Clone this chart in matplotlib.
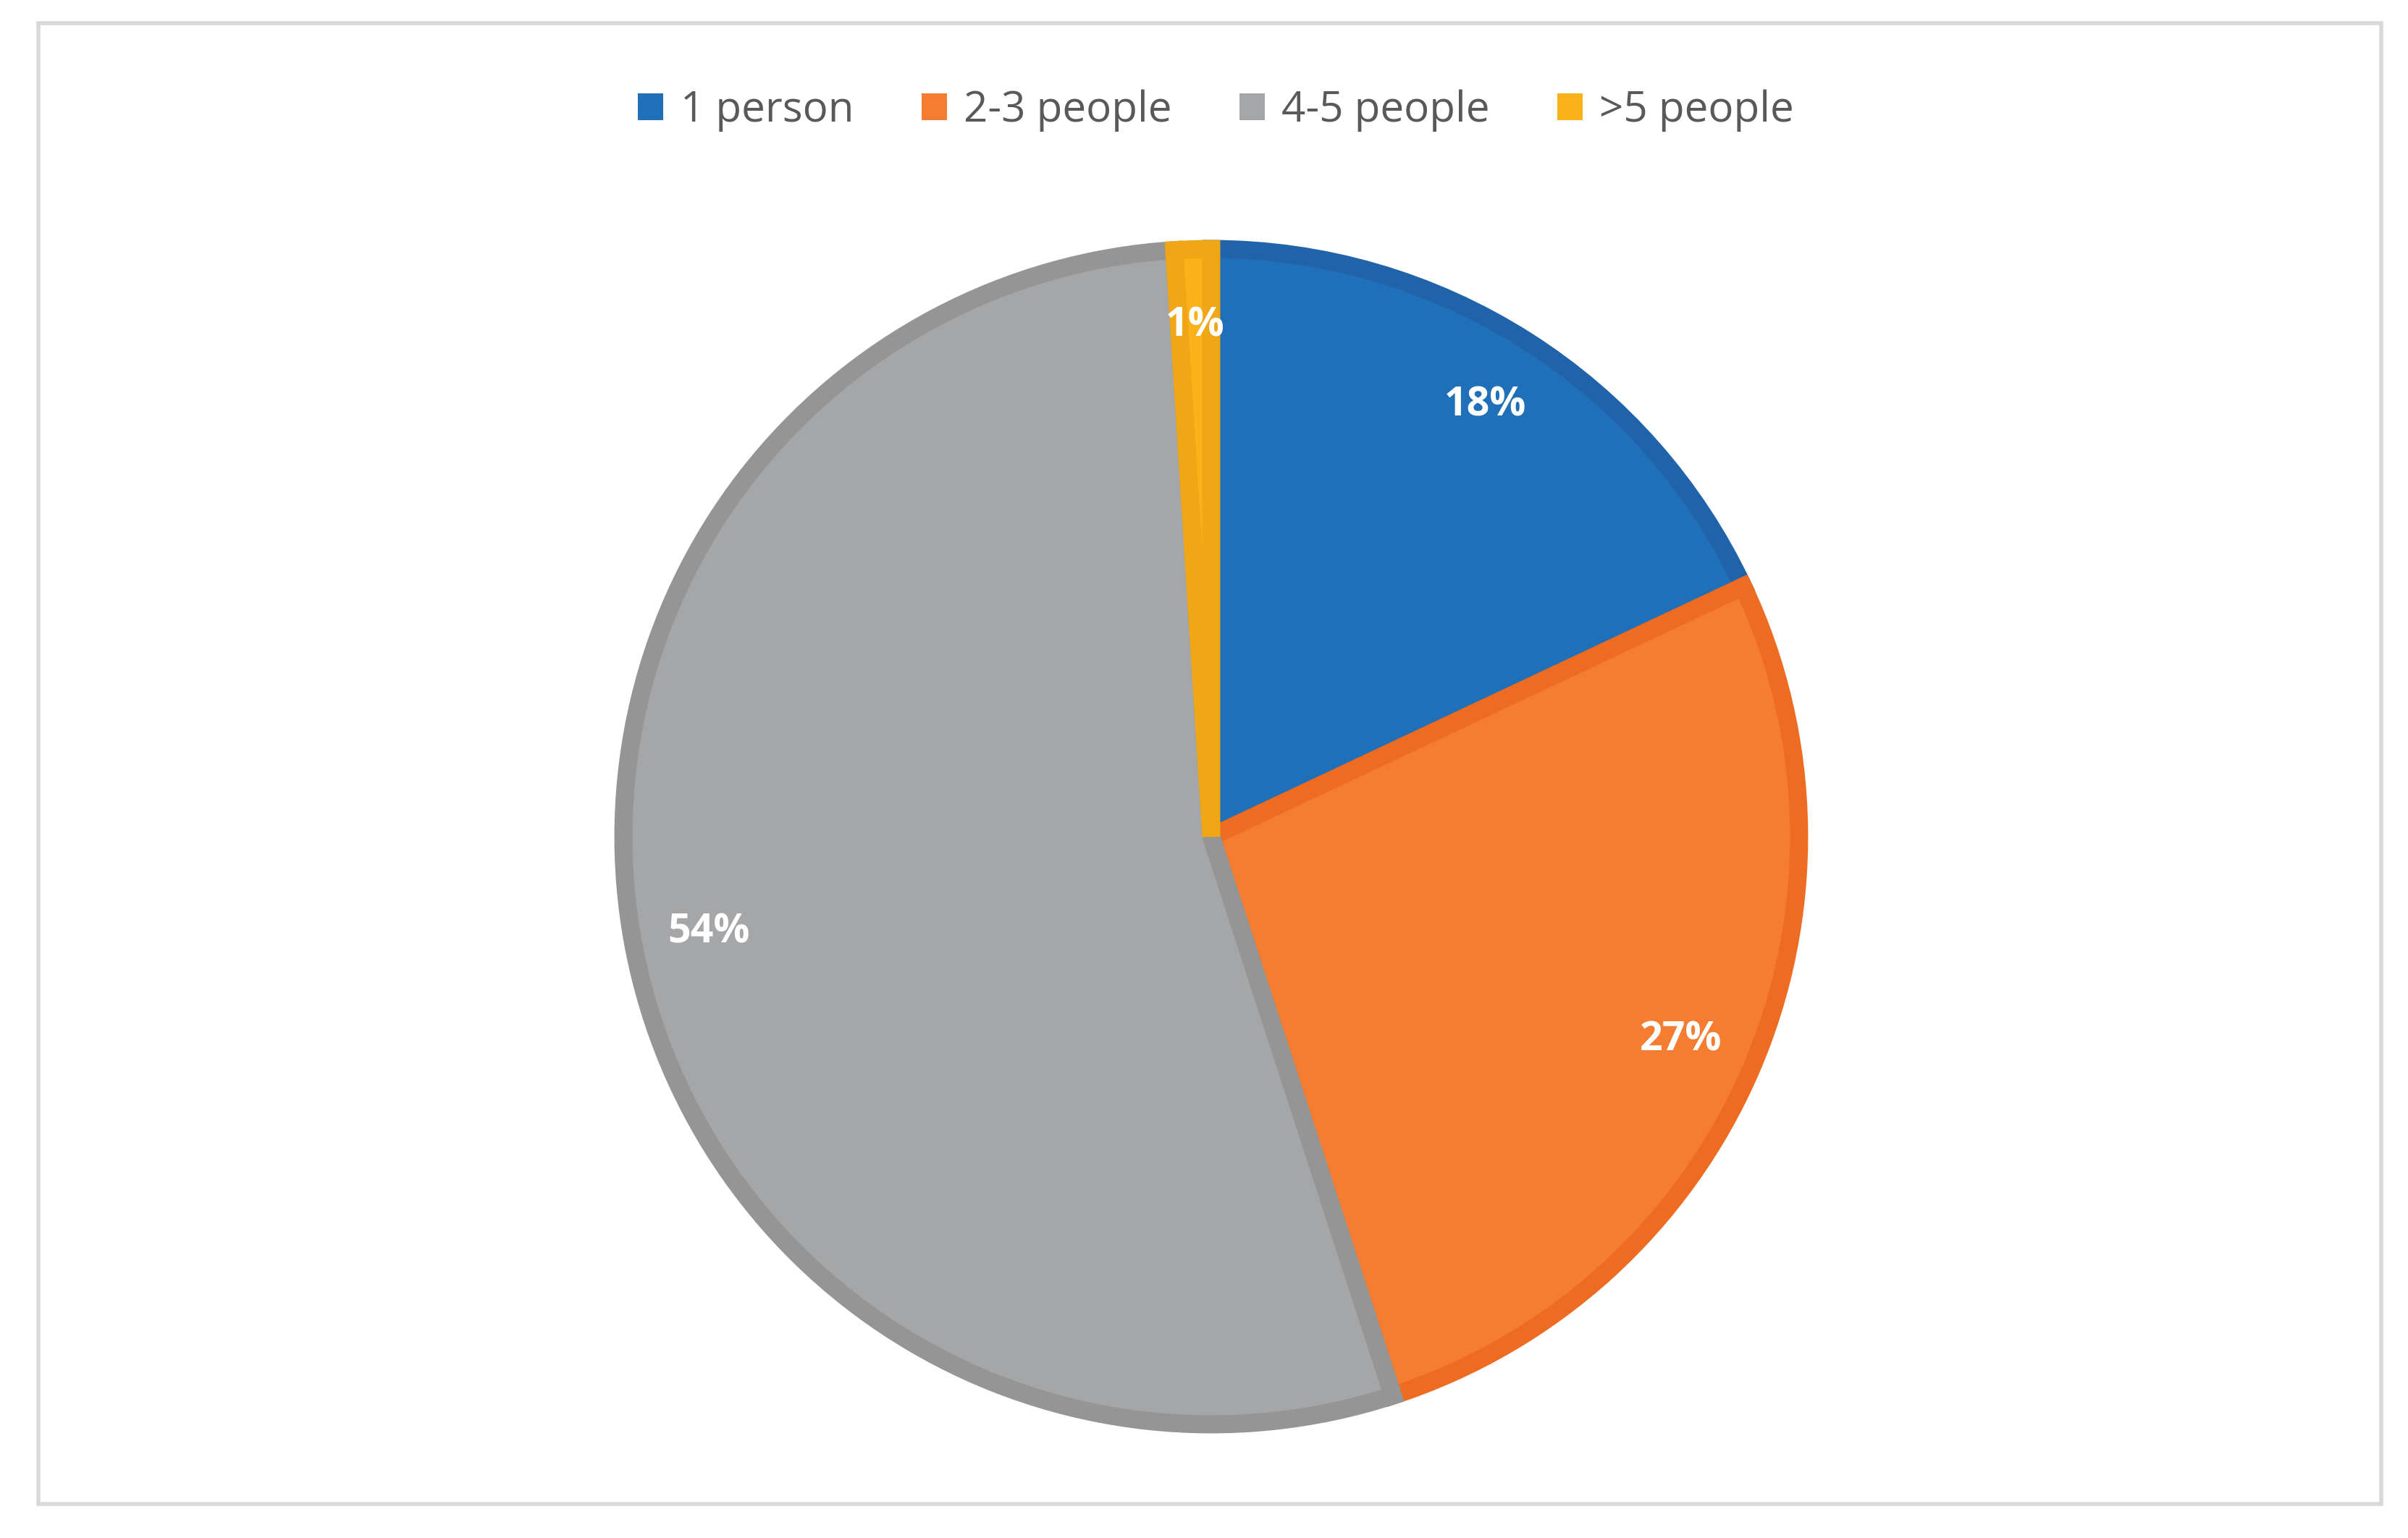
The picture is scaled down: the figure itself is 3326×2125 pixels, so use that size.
import matplotlib.pyplot as plt
from matplotlib.patches import Rectangle

labels = ["1 person", "2-3 people", "4-5 people", ">5 people"]
shares = [18, 27, 54, 1]
face_colors = ["#1F70B8", "#F57D32", "#A5A6A8", "#F9B21A"]
edge_colors = ["#2163AA", "#EE6C22", "#959595", "#EFA716"]

plt.rcParams['font.family'] = ['Open Sans', 'DejaVu Sans']

fig = plt.figure(figsize=(16.63, 10.625), dpi=200)
fig.patches.append(Rectangle((0.016, 0.022), 0.973, 0.963, transform=fig.transFigure,
                             fill=False, edgecolor="#D9D9D9", linewidth=2))

ax = fig.add_axes([0.254, 0.066, 0.498, 0.78])
wedges, texts, autotexts = ax.pie(
    shares, colors=face_colors, startangle=90, counterclock=False,
    autopct=lambda p: f"{p:.0f}%", pctdistance=0.87, radius=1,
    textprops=dict(color="white", fontsize=20, fontweight="bold"))
for w, ec in zip(wedges, edge_colors):
    w.set_edgecolor(ec)
    w.set_linewidth(9)
ax.set_xlim(-1.02, 1.02)
ax.set_ylim(-1.02, 1.02)
ax.set_aspect("equal")

fig.legend(wedges, labels, loc="center", bbox_to_anchor=(0.505, 0.928), ncol=4,
           frameon=False, fontsize=21, labelcolor="#595959",
           handlelength=0.6, handleheight=0.6, handletextpad=0.4, columnspacing=1.6)
for h in fig.legends[0].legend_handles:
    h.set_linewidth(0)

fig.savefig("out.png", dpi=200)
